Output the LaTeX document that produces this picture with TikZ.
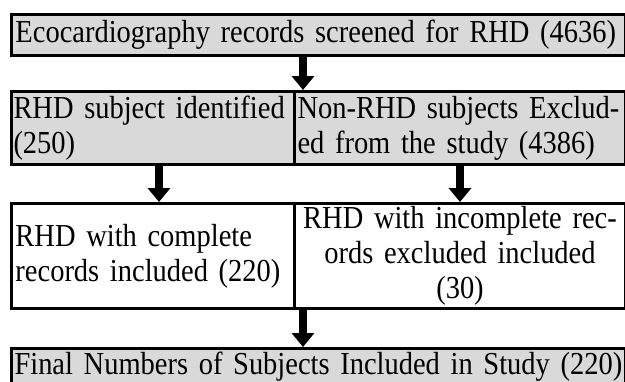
\documentclass[tikz,border=0pt]{standalone}
\usepackage{fontspec}
\setmainfont{Liberation Serif}[FakeStretch=0.89]
\usetikzlibrary{arrows.meta}
\hyphenpenalty=10000
\begin{document}
\begin{tikzpicture}[x=1pt,y=-1pt,
  cell/.style={draw=black, line width=3pt, anchor=north west,
    inner xsep=2pt, inner ysep=0pt, align=left,
    font=\fontsize{32}{35}\selectfont},
  shaded/.style={fill=gray!30},
  flow/.style={line width=8pt, -{Triangle[length=14pt,width=22pt]}}]
\useasboundingbox (0,0) rectangle (625,381);

% first row: all screened records
\node[cell, shaded, inner xsep=4pt, minimum width=614pt, minimum height=41pt,
  text width=606pt] (screen) at (10,13)
  {Ecocardiography records screened for RHD (4636)};

% second row: split into RHD and non-RHD subjects
\node[cell, shaded, minimum width=283pt, minimum height=73pt,
  text width=279pt] (rhd) at (10,90)
  {RHD subject identified\\(250)};
\node[cell, shaded, inner xsep=3pt, minimum width=331pt, minimum height=73pt,
  text width=325pt] (nonrhd) at (293,90)
  {Non-RHD subjects Exclud-\\ed from the study (4386)};

% third row: complete vs incomplete records
\node[cell, inner xsep=4pt, minimum width=283pt, minimum height=105pt,
  text width=275pt] (complete) at (10,202)
  {RHD with complete\\records included (220)};
\node[cell, align=center, minimum width=331pt, minimum height=105pt,
  text width=327pt] (incomplete) at (293,202)
  {RHD with incomplete rec-\\ords excluded included\\(30)};

% final row
\node[cell, shaded, inner xsep=3pt, minimum width=614pt, minimum height=36pt,
  text width=608pt] (final) at (10,347)
  {Final Numbers of Subjects Included in Study (220)};

% connectors
\draw[flow] ([xshift=7pt]rhd.north east |- screen.south) -- ([xshift=7pt]rhd.north east);
\draw[flow] ([xshift=6pt]rhd.south) -- ([xshift=6pt]rhd.south |- complete.north);
\draw[flow] (nonrhd.south) -- (nonrhd.south |- incomplete.north);
\draw[flow] ([xshift=7pt]complete.south east) -- ([xshift=7pt]complete.south east |- final.north);
\end{tikzpicture}
\end{document}
